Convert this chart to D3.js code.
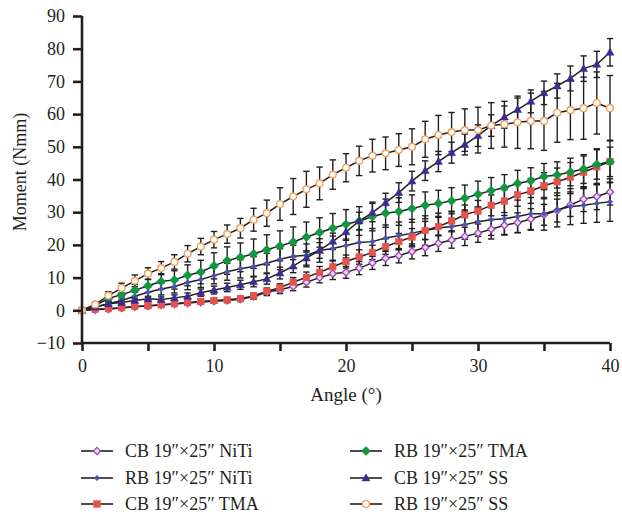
<!DOCTYPE html>
<html lang="en">
<head>
<meta charset="utf-8">
<title>Moment vs Angle</title>
<script src="https://cdn.jsdelivr.net/npm/d3@7"></script>
<style>
  body { margin: 0; background: #fff; }
  svg text { font-family: "Liberation Serif", "DejaVu Serif", serif; fill: #231f20; }
</style>
</head>
<body>
<svg id="chart" width="622" height="515"></svg>
<script>
// angles 0..40 degrees, one reading per degree
var angles = d3.range(0, 41);

var cbNiTi = [0,0.2,0.4,0.7,1.1,1.3,1.6,1.9,2.2,2.5,2.8,3.0,3.4,4.2,5.5,6.3,7.3,8.6,10.0,11.2,11.6,12.9,14.5,15.9,16.7,18.0,19.2,20.5,21.5,22.6,23.6,24.8,26.0,26.8,27.9,29.2,30.5,32.2,34.0,34.8,36.2];
var rbNiTi = [0,1.0,2.0,3.0,4.3,5.5,6.5,7.3,8.5,9.4,10.6,11.8,12.7,13.4,14.4,15.6,16.5,16.8,18.3,18.9,19.8,20.7,21.0,22.1,22.8,23.6,24.4,25.2,25.6,26.2,27.1,27.7,28.0,28.7,29.5,29.5,30.7,31.7,32.1,32.7,33.2];
var cbTMA  = [0,0.3,0.5,0.8,1.2,1.4,1.7,2.0,2.4,2.7,3.0,3.2,3.6,4.4,5.8,6.9,8.6,10.1,11.6,13.3,14.9,16.3,17.7,19.5,21.0,22.4,24.4,25.6,27.3,29.2,30.4,32.1,33.4,35.3,36.5,38.1,39.3,40.7,42.2,43.9,45.5];
var rbTMA  = [0,1.5,3.6,4.8,6.1,7.5,8.8,9.3,10.7,11.7,13.6,15.2,16.2,17.3,18.5,19.7,20.9,22.4,23.8,25.1,26.3,27.3,28.7,29.7,30.2,31.1,32.1,32.7,33.5,34.3,35.5,36.6,37.5,38.8,39.6,40.9,41.4,42.3,43.2,44.6,45.4];
var cbSS   = [0,1.0,2.0,2.4,3.0,3.5,3.3,3.8,4.3,5.4,6.2,7.0,7.8,8.7,9.6,11.4,13.5,16.0,18.3,21.1,24.0,27.3,29.9,32.9,36.0,39.5,42.7,45.5,48.2,50.7,53.4,56.5,59.1,61.4,63.9,66.5,68.6,70.9,73.9,75.2,78.9];
var rbSS   = [0,1.8,4.5,6.8,9.0,11.2,12.9,14.8,17.3,19.5,21.6,23.3,25.1,27.7,29.7,32.5,34.8,37.0,38.8,41.5,43.6,45.7,47.3,48.0,49.0,50.0,52.3,53.6,54.5,55.1,55.1,56.5,56.9,57.5,57.9,57.9,60.4,61.2,61.8,63.4,61.8];

// error bar half-lengths (SD)
var cbNiTiErr = [0,0.3,0.3,0.4,0.4,0.5,0.5,0.5,0.5,0.6,0.6,0.6,0.7,0.8,1.0,1.2,1.3,1.5,1.6,1.8,1.8,2.0,2.0,2.2,2.2,2.3,2.5,2.5,2.5,2.8,2.8,3.0,3.0,3.0,3.2,3.2,3.5,3.5,3.8,4.0,4.0];
var rbNiTiErr = [0,0.5,0.8,1.0,1.2,1.5,1.8,2.0,2.2,2.4,2.5,2.6,2.8,3.0,3.0,3.2,3.4,3.5,3.6,3.8,3.8,4.0,4.0,4.0,4.2,4.2,4.5,4.5,4.5,4.5,4.5,4.8,4.8,5.0,5.0,5.0,5.2,5.5,5.5,5.8,6.0];
var cbTMAErr  = [0,0.3,0.3,0.4,0.4,0.5,0.5,0.5,0.5,0.6,0.6,0.6,0.7,0.8,1.0,1.2,1.4,1.6,1.8,2.0,2.0,2.2,2.2,2.4,2.5,2.6,2.8,2.8,3.0,3.0,3.2,3.2,3.5,3.5,3.8,4.0,4.2,4.5,5.0,5.5,6.5];
var rbTMAErr  = [0,0.6,1.0,1.4,1.8,2.0,2.4,2.8,3.2,3.6,4.0,4.2,4.4,4.5,4.6,4.6,4.6,4.6,4.5,4.5,4.5,4.4,4.4,4.3,4.2,4.2,4.1,4.0,4.0,4.0,4.0,4.0,4.0,4.0,4.0,4.0,4.0,4.2,4.4,4.5,4.5];
var cbSSErr   = [0,0.4,0.5,0.6,0.7,0.8,0.8,0.9,1.0,1.1,1.2,1.3,1.4,1.5,1.6,1.8,2.0,2.2,2.4,2.5,2.6,2.7,2.8,2.9,3.0,3.0,3.0,3.1,3.2,3.2,3.3,3.3,3.4,3.5,3.5,3.6,3.7,3.8,3.9,4.0,4.2];
var rbSSErr   = [0,0.8,1.2,1.5,1.8,1.8,2.0,2.2,2.5,2.5,2.5,2.8,3.0,3.5,4.0,5.0,5.5,5.5,5.0,4.5,4.3,4.5,5.0,5.0,5.0,5.5,5.5,6.0,6.0,6.5,7.0,7.0,7.0,8.0,8.5,9.0,9.0,9.0,9.5,9.5,10.0];

var seriesNames = ["CB 19\u2033\u00d725\u2033 NiTi", "RB 19\u2033\u00d725\u2033 NiTi", "CB 19\u2033\u00d725\u2033 TMA",
                   "RB 19\u2033\u00d725\u2033 TMA", "CB 19\u2033\u00d725\u2033 SS", "RB 19\u2033\u00d725\u2033 SS"];
var xTicks = [0, 10, 20, 30, 40];
var yTicks = [-10, 0, 10, 20, 30, 40, 50, 60, 70, 80, 90];

var styles = [
  {shape: "diamond", size: 3.6, fill: "#f3d6f0", stroke: "#9a45b8", sw: 1.3},
  {shape: "diamond", size: 2.8, fill: "#4a55b8", stroke: "#4a55b8", sw: 0.5},
  {shape: "square",  size: 3.3, fill: "#e8524c", stroke: "#e8524c", sw: 0.5},
  {shape: "diamond", size: 4.6, fill: "#11973f", stroke: "#11973f", sw: 0.5},
  {shape: "triangle",size: 4.2, fill: "#3b2d90", stroke: "#3b2d90", sw: 0.5},
  {shape: "circle",  size: 3.4, fill: "#ffffff", stroke: "#f1a15e", sw: 1.4}
];

var values = [cbNiTi, rbNiTi, cbTMA, rbTMA, cbSS, rbSS];
var errs = [cbNiTiErr, rbNiTiErr, cbTMAErr, rbTMAErr, cbSSErr, rbSSErr];

var series = seriesNames.map(function(name, i) {
  return {
    name: name, style: styles[i],
    points: angles.map(function(a, j) { return {x: a, y: values[i][j], e: errs[i][j]}; })
  };
});

var svg = d3.select("#chart");
var x = d3.scaleLinear().domain([0, 40]).range([82, 610]);
var y = d3.scaleLinear().domain([-10, 90]).range([343, 16]);

// error bars
var capW = 3.2;
series.forEach(function(s) {
  var g = svg.append("g").attr("stroke", "#231f20").attr("stroke-width", 1.4).attr("fill", "none");
  s.points.forEach(function(p) {
    if (p.e <= 0) return;
    var cx = x(p.x), y1 = y(p.y + p.e), y2 = y(p.y - p.e);
    g.append("line").attr("x1", cx).attr("x2", cx).attr("y1", y1).attr("y2", y2);
    g.append("line").attr("x1", cx - capW).attr("x2", cx + capW).attr("y1", y1).attr("y2", y1);
    g.append("line").attr("x1", cx - capW).attr("x2", cx + capW).attr("y1", y2).attr("y2", y2);
  });
});

// lines
var line = d3.line().x(function(d) { return x(d.x); }).y(function(d) { return y(d.y); });
series.forEach(function(s) {
  svg.append("path").datum(s.points)
    .attr("d", line).attr("fill", "none")
    .attr("stroke", "#231f20").attr("stroke-width", 1.5);
});

function drawMarker(g, st, cx, cy) {
  var r = st.size, m;
  if (st.shape === "circle") {
    m = g.append("circle").attr("cx", cx).attr("cy", cy).attr("r", r);
  } else if (st.shape === "square") {
    m = g.append("rect").attr("x", cx - r).attr("y", cy - r).attr("width", 2 * r).attr("height", 2 * r);
  } else if (st.shape === "diamond") {
    m = g.append("path").attr("d", "M" + cx + "," + (cy - r) + "L" + (cx + r) + "," + cy + "L" + cx + "," + (cy + r) + "L" + (cx - r) + "," + cy + "Z");
  } else {
    m = g.append("path").attr("d", "M" + cx + "," + (cy - r) + "L" + (cx + r * 0.95) + "," + (cy + r * 0.7) + "L" + (cx - r * 0.95) + "," + (cy + r * 0.7) + "Z");
  }
  m.attr("fill", st.fill).attr("stroke", st.stroke).attr("stroke-width", st.sw);
}

// markers
series.forEach(function(s) {
  var g = svg.append("g");
  s.points.forEach(function(p) { drawMarker(g, s.style, x(p.x), y(p.y)); });
});

// axes
var xAxis = svg.append("g").attr("transform", "translate(0,343)")
  .call(d3.axisBottom(x).tickValues(d3.range(0, 41, 5)).tickSize(8)
    .tickFormat(function(d) { return xTicks.indexOf(d) >= 0 ? d : ""; }));
var yAxis = svg.append("g").attr("transform", "translate(82,0)")
  .call(d3.axisLeft(y).tickValues(yTicks).tickSize(9));

[xAxis, yAxis].forEach(function(ax) {
  ax.select(".domain").attr("stroke", "#231f20").attr("stroke-width", 2.6);
  ax.selectAll(".tick line").attr("stroke", "#231f20").attr("stroke-width", 2.6);
  ax.selectAll(".tick text").attr("font-family", "Liberation Serif, serif").attr("font-size", 18).attr("fill", "#231f20");
});
xAxis.select(".domain").attr("d", "M82,0H610");
yAxis.select(".domain").attr("d", "M0,343V16");
xAxis.selectAll(".tick text").attr("y", 13).attr("dy", "0.9em");
yAxis.selectAll(".tick text").attr("x", -17);

svg.append("text").attr("x", 346).attr("y", 401).attr("text-anchor", "middle")
  .attr("font-size", 19).text("Angle (\u00b0)");
svg.append("text").attr("transform", "translate(26,172) rotate(-90)").attr("text-anchor", "middle")
  .attr("font-size", 18).text("Moment (Nmm)");

// legend
var legX = [81, 350], legY = [451, 478, 504];
series.forEach(function(s, i) {
  var lx = legX[Math.floor(i / 3)], ly = legY[i % 3];
  var g = svg.append("g");
  g.append("line").attr("x1", lx).attr("x2", lx + 32).attr("y1", ly).attr("y2", ly)
    .attr("stroke", "#231f20").attr("stroke-width", 1.6);
  drawMarker(g, s.style, lx + 16, ly);
  g.append("text").attr("x", lx + 44).attr("y", ly + 6).attr("font-size", 18).text(s.name);
});
</script>
</body>
</html>
